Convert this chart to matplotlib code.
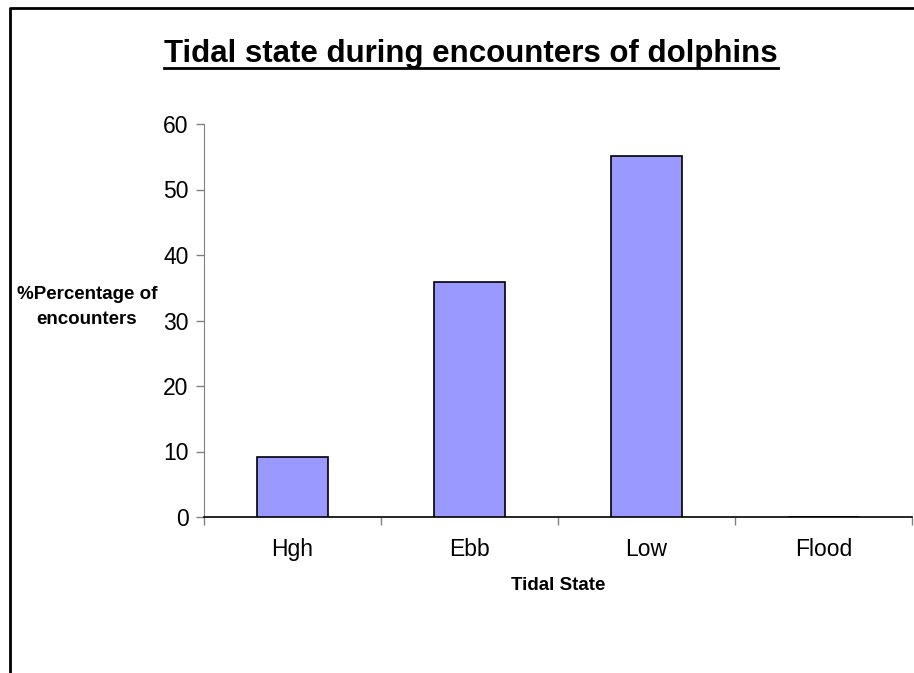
import matplotlib
matplotlib.use("Agg")
import matplotlib.pyplot as plt
from matplotlib.lines import Line2D

plt.rcParams['font.family'] = ['Liberation Sans', 'DejaVu Sans']

# Percentage of dolphin encounters per tidal state
states = ['Hgh', 'Ebb', 'Low', 'Flood']
percent = [9.1, 35.9, 55.1, 0]

W, H = 914, 673
fig = plt.figure(figsize=(W / 100, H / 100), dpi=100)
ax = fig.add_axes([204 / W, 1 - 517 / H, (912 - 204) / W, (517 - 124) / H])

x = list(range(len(states)))
ax.bar(x, percent, width=0.4, color='#9999FF', edgecolor='black', linewidth=1.2, zorder=3)

ax.set_xlim(-0.5, len(states) - 0.5)
ax.set_ylim(0, 60)
ax.set_yticks(range(0, 61, 10))
ax.set_yticklabels([str(v) for v in range(0, 61, 10)], fontsize=16.5)

# category labels centred, ticks on the category boundaries
ax.set_xticks(x)
ax.set_xticklabels(states, fontsize=16.5)
ax.tick_params(axis='x', length=0, pad=15)
ax.set_xticks([i - 0.5 for i in range(len(states) + 1)], minor=True)
ax.tick_params(axis='x', which='minor', length=6, width=1, color='#808080', direction='out')
ax.tick_params(axis='y', length=6, width=1, color='#808080', direction='out', pad=5)

for s in ['top', 'right']:
    ax.spines[s].set_visible(False)
ax.spines['left'].set_color('#808080')
ax.spines['bottom'].set_color('black')
ax.spines['bottom'].set_linewidth(1.2)

ax.set_xlabel('Tidal State', fontsize=13.5, fontweight='bold', labelpad=12)
fig.text(87 / W, 1 - 307 / H, '%Percentage of\nencounters', fontsize=13.5,
         fontweight='bold', ha='center', va='center', linespacing=1.6)

# underlined title
title = fig.text(471 / W, 1 - 54 / H, 'Tidal state during encounters of dolphins',
                 fontsize=22.5, fontweight='bold', ha='center', va='center')
fig.canvas.draw()
bb = title.get_window_extent()
uy = bb.y0 + 1
fig.add_artist(Line2D([bb.x0 / W, bb.x1 / W], [uy / H, uy / H],
                      transform=fig.transFigure, color='black', linewidth=2))

# chart frame (left and top edges)
fig.add_artist(Line2D([10 / W, 10 / W, 1.0], [0, 1 - 8 / H, 1 - 8 / H],
                      transform=fig.transFigure, color='black', linewidth=2))

fig.savefig('out.png', dpi=100)
